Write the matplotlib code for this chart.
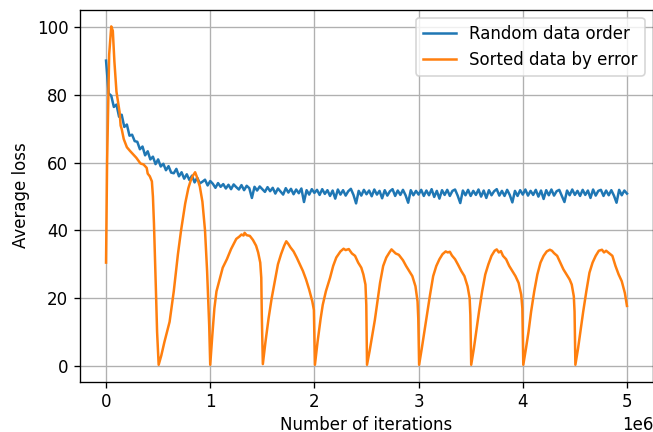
import numpy as np
import matplotlib
matplotlib.use("Agg")
import matplotlib.pyplot as plt

# random data order: average loss every 25k iterations (0 .. 5e6)
random_step = 25000
random_loss = [
    90.2, 80.5, 79.8, 76.5, 77.2, 73.6, 74.2, 70.6, 71.3, 68.0,
    68.3, 66.4, 66.2, 64.0, 64.8, 62.2, 63.4, 61.0, 61.8, 59.6,
    61.0, 58.9, 59.7, 57.8, 59.0, 57.1, 56.9, 58.2, 56.0, 57.2,
    55.3, 56.6, 54.9, 56.2, 54.2, 55.6, 53.9, 54.4, 55.0, 53.3,
    54.6,
    53.8, 52.6, 54.0, 52.9, 53.7, 52.4, 53.5, 52.2, 53.6, 52.8,
    52.1, 53.4, 51.9, 53.2, 52.5, 49.6, 52.9, 51.8, 53.0, 52.2,
    51.4, 52.8, 51.6, 52.6, 50.9, 52.4, 51.5, 50.6, 52.5, 51.2,
    52.3, 50.7, 52.1, 51.0, 52.4, 48.4, 51.9, 50.6, 52.2, 51.1,
    52.0, 50.5, 52.2, 50.8, 51.9, 50.2, 51.8, 49.4, 52.1, 50.6,
    51.9, 50.3, 51.6, 52.3, 50.5, 48.0, 51.7, 50.3, 52.0, 50.7,
    51.8, 50.1, 52.1, 50.6, 51.7, 49.5, 51.9, 50.3, 51.6, 52.2,
    50.2, 51.8, 50.5, 52.0, 50.4, 48.2, 51.9, 50.4, 51.7, 50.6,
    52.0, 50.2, 51.8, 50.4, 52.2, 49.9, 51.7, 49.4, 51.9, 50.5,
    52.0, 50.2, 51.7, 52.1, 50.3, 48.1, 51.8, 50.4, 52.0, 50.2,
    51.7, 50.5, 52.1, 50.0, 51.8, 49.6, 51.9, 50.4, 51.6, 52.2,
    50.3, 51.7, 50.2, 52.0, 50.5, 48.3, 51.7, 50.2, 51.9, 50.6,
    52.1, 50.3, 51.7, 50.5, 52.0, 50.0, 51.8, 49.3, 51.9, 50.4,
    52.1, 50.3, 51.6, 52.0, 50.2, 48.4, 51.8, 50.4, 52.1, 50.5,
    51.7, 50.2, 52.0, 50.5, 51.8, 49.6, 52.1, 50.3, 51.7, 52.0,
    50.2, 51.8, 50.4, 51.9, 50.3, 48.2, 52.0, 50.4, 51.8, 50.9,
]
random_iters = np.arange(len(random_loss)) * random_step

# sorted data by error: iterations (millions) and average loss
sorted_iters_m = [
    0.0, 0.01, 0.03, 0.05, 0.065, 0.08, 0.1, 0.115, 0.13, 0.14, 0.15, 0.17,
    0.2, 0.23, 0.26, 0.29, 0.33, 0.36, 0.39, 0.40, 0.42, 0.44, 0.45, 0.46,
    0.47, 0.48, 0.49, 0.505,
    0.53, 0.56, 0.61, 0.65, 0.69, 0.72, 0.76, 0.79, 0.81, 0.83, 0.855, 0.87,
    0.9, 0.925, 0.95, 0.97, 0.99, 1.0,
    1.02, 1.04, 1.06, 1.09, 1.12, 1.16, 1.2, 1.25, 1.28, 1.3, 1.32, 1.33,
    1.35, 1.38, 1.41, 1.44, 1.46, 1.48, 1.49, 1.495, 1.505,
    1.53, 1.56, 1.59, 1.62, 1.65, 1.68, 1.71, 1.73, 1.75, 1.77, 1.80, 1.83,
    1.86, 1.89, 1.92, 1.95, 1.98, 1.995, 2.005,
    2.03, 2.06, 2.08, 2.11, 2.15, 2.18, 2.21, 2.25, 2.28, 2.3, 2.33, 2.36,
    2.39, 2.42, 2.45, 2.47, 2.49, 2.498, 2.505,
    2.53, 2.555, 2.58, 2.61, 2.63, 2.66, 2.69, 2.72, 2.74, 2.76, 2.78, 2.81,
    2.85, 2.88, 2.91, 2.94, 2.97, 2.99, 2.997, 3.005,
    3.03, 3.055, 3.08, 3.11, 3.14, 3.17, 3.2, 3.23, 3.26, 3.28, 3.3, 3.32,
    3.35, 3.38, 3.41, 3.44, 3.47, 3.49, 3.497, 3.505,
    3.53, 3.555, 3.58, 3.61, 3.64, 3.67, 3.7, 3.73, 3.75, 3.77, 3.79, 3.81,
    3.84, 3.87, 3.9, 3.93, 3.96, 3.985, 3.996, 4.005,
    4.03, 4.055, 4.08, 4.11, 4.14, 4.17, 4.2, 4.23, 4.26, 4.28, 4.3, 4.33,
    4.36, 4.39, 4.42, 4.45, 4.47, 4.49, 4.497, 4.505,
    4.53, 4.555, 4.58, 4.61, 4.64, 4.67, 4.7, 4.73, 4.76, 4.78, 4.8, 4.82,
    4.86, 4.89, 4.92, 4.95, 4.98, 5.0,
]
sorted_loss = [
    30.5, 60.0, 92.0, 100.3, 99.0, 90.0, 81.0, 78.0, 75.0, 71.0, 70.0, 67.0,
    64.6, 63.5, 62.5, 61.5, 59.8, 59.5, 58.5, 56.8, 56.0, 54.5, 50.0, 42.0,
    32.0, 21.0, 10.0, 0.3,
    3.0, 7.0, 13.0, 22.0, 33.0, 40.0, 48.0, 52.5, 54.5, 56.0, 57.2, 56.0,
    53.0, 48.5, 40.0, 28.0, 12.0, 0.3,
    9.0, 17.0, 22.0, 25.5, 29.0, 31.5, 34.5, 37.5, 38.2, 38.8, 38.5, 39.3,
    38.6, 38.4, 37.2, 35.5, 33.5, 30.5, 26.0, 15.0, 0.5,
    7.0, 14.0, 20.0, 25.0, 30.0, 33.0, 35.5, 36.8, 36.0, 35.0, 33.8, 32.0,
    30.0, 28.0, 25.5, 22.5, 19.0, 16.5, 0.3,
    7.0, 14.0, 18.0, 22.0, 26.0, 29.5, 32.0, 33.8, 34.6, 34.2, 34.5, 33.2,
    32.5, 30.5, 29.0, 27.0, 24.0, 18.0, 0.3,
    4.4, 9.0, 13.5, 20.0, 24.5, 29.5, 32.0, 33.5, 34.4, 33.8, 33.2, 32.8,
    31.2, 29.5, 28.0, 26.5, 23.5, 19.0, 14.0, 0.3,
    5.0, 10.0, 15.0, 21.0, 26.5, 29.5, 31.5, 33.0, 33.8, 33.5, 33.7, 32.6,
    31.5, 29.8, 28.0, 26.5, 23.5, 20.0, 15.0, 0.3,
    5.0, 10.5, 16.0, 22.0, 27.0, 30.0, 32.5, 34.0, 34.4, 33.5, 33.9, 32.5,
    31.5, 29.5, 28.0, 26.5, 24.5, 21.0, 17.0, 0.3,
    5.0, 10.0, 16.0, 22.0, 27.0, 30.5, 32.5, 33.8, 34.3, 34.0, 33.3, 32.5,
    30.5, 28.5, 27.0, 25.5, 24.0, 20.5, 16.0, 0.3,
    5.0, 10.5, 16.0, 22.0, 27.5, 30.5, 32.5, 34.0, 34.3, 33.5, 34.0, 33.5,
    32.5, 29.5, 27.0, 25.0, 21.5, 17.7,
]
sorted_iters = np.array(sorted_iters_m) * 1e6

fig = plt.figure(figsize=(653 / 120, 432 / 120), dpi=120)
ax = fig.add_axes([80 / 653, 50.3 / 432, 573 / 653, 372.2 / 432])

ax.plot(random_iters, random_loss, label="Random data order")
ax.plot(sorted_iters, sorted_loss, label="Sorted data by error")
ax.grid(True)
ax.set_xlabel("Number of iterations", labelpad=3)
ax.set_ylabel("Average loss")
ax.legend(loc="upper right")

fig.savefig("out.png", dpi=120)
